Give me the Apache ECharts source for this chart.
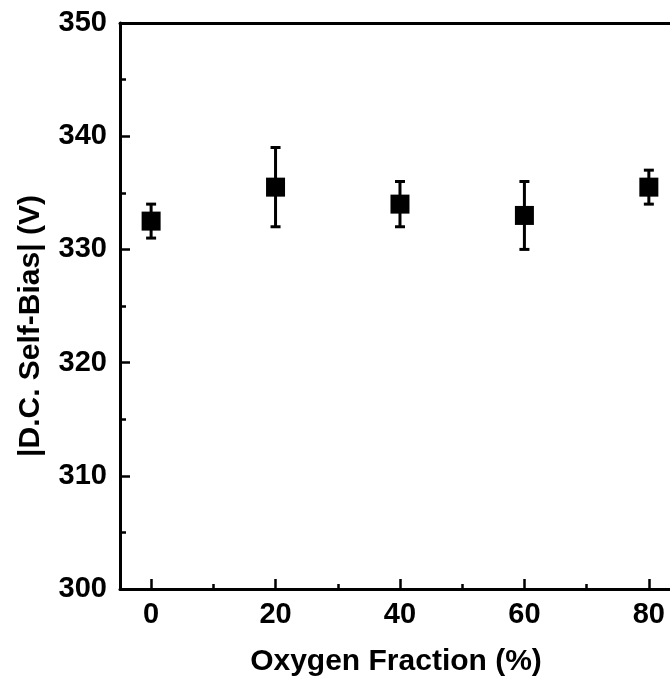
<!DOCTYPE html>
<html>
<head>
<meta charset="utf-8">
<script src="https://cdn.jsdelivr.net/npm/echarts@6/dist/echarts.min.js"></script>
<style>
html,body{margin:0;padding:0;background:#fff;}
#chart{width:670px;height:680px;}
</style>
</head>
<body>
<div id="chart"></div>
<script>
// Data
var oxygenFraction = [0, 20, 40, 60, 80];
var selfBias = [332.5, 335.5, 334, 333, 335.5];
var errLow = [331, 332, 332, 330, 334];
var errHigh = [334, 339, 336, 336, 337];
var xMajorTicks = [0, 20, 40, 60, 80];
var xMinorTicks = [10, 30, 50, 70];
var xTitle = 'Oxygen Fraction (%)';
var yTitle = '|D.C. Self-Bias| (V)';

var FONT = '"Liberation Sans", Arial, sans-serif';
var chart = echarts.init(document.getElementById('chart'), null, {renderer: 'canvas'});

var points = oxygenFraction.map(function (x, i) { return [x, selfBias[i]]; });
var errData = oxygenFraction.map(function (x, i) { return [x, errLow[i], errHigh[i]]; });

var option = {
  animation: false,
  backgroundColor: '#fff',
  grid: {left: 120, right: 0, top: 23, bottom: 91, containLabel: false},
  xAxis: [
    {
      type: 'value', position: 'bottom', min: -5, max: 83.4,
      axisLine: {show: true, onZero: false, lineStyle: {color: '#000', width: 3}},
      axisTick: {show: true, inside: true, length: 10, lineStyle: {color: '#000', width: 2.5}, customValues: xMajorTicks},
      axisLabel: {show: true, margin: 11, color: '#000', fontFamily: FONT, fontWeight: 'bold', fontSize: 29, customValues: xMajorTicks},
      splitLine: {show: false}
    },
    {
      type: 'value', position: 'bottom', min: -5, max: 83.4,
      axisLine: {show: false, onZero: false},
      axisTick: {show: true, inside: true, length: 5, lineStyle: {color: '#000', width: 2.5}, customValues: xMinorTicks},
      axisLabel: {show: false},
      splitLine: {show: false}
    },
    {
      type: 'value', position: 'top', min: -5, max: 83.4,
      axisLine: {show: true, onZero: false, lineStyle: {color: '#000', width: 3}},
      axisTick: {show: false},
      axisLabel: {show: false},
      splitLine: {show: false}
    }
  ],
  yAxis: [{
    type: 'value', min: 300, max: 350, interval: 10,
    axisLine: {show: true, onZero: false, lineStyle: {color: '#000', width: 3}},
    axisTick: {show: true, inside: true, length: 10, lineStyle: {color: '#000', width: 2.5}},
    minorTick: {show: true, splitNumber: 2, length: 6, lineStyle: {color: '#000', width: 2.5}},
    axisLabel: {margin: 13, color: '#000', fontFamily: FONT, fontWeight: 'bold', fontSize: 29},
    splitLine: {show: false}
  }],
  graphic: [
    {type: 'text', x: 396, y: 662, style: {text: xTitle, fill: '#000', font: 'bold 30px ' + FONT, textAlign: 'center', textVerticalAlign: 'middle'}},
    {type: 'text', rotation: Math.PI / 2, x: 31, y: 326, style: {text: yTitle, fill: '#000', font: 'bold 30px ' + FONT, textAlign: 'center', textVerticalAlign: 'middle'}}
  ],
  series: [
    {
      type: 'custom', xAxisIndex: 0, yAxisIndex: 0, z: 2,
      data: errData,
      encode: {x: 0, y: [1, 2]},
      renderItem: function (params, api) {
        var lo = api.coord([api.value(0), api.value(1)]);
        var hi = api.coord([api.value(0), api.value(2)]);
        var cw = 5;
        var st = {stroke: '#000', lineWidth: 3};
        return {
          type: 'group',
          children: [
            {type: 'line', shape: {x1: lo[0], y1: lo[1], x2: hi[0], y2: hi[1]}, style: st},
            {type: 'line', shape: {x1: lo[0] - cw, y1: lo[1], x2: lo[0] + cw, y2: lo[1]}, style: st},
            {type: 'line', shape: {x1: hi[0] - cw, y1: hi[1], x2: hi[0] + cw, y2: hi[1]}, style: st}
          ]
        };
      }
    },
    {
      type: 'scatter', xAxisIndex: 0, yAxisIndex: 0, z: 3,
      symbol: 'rect', symbolSize: 19,
      itemStyle: {color: '#000', opacity: 1},
      data: points
    }
  ]
};
chart.setOption(option);
</script>
</body>
</html>
